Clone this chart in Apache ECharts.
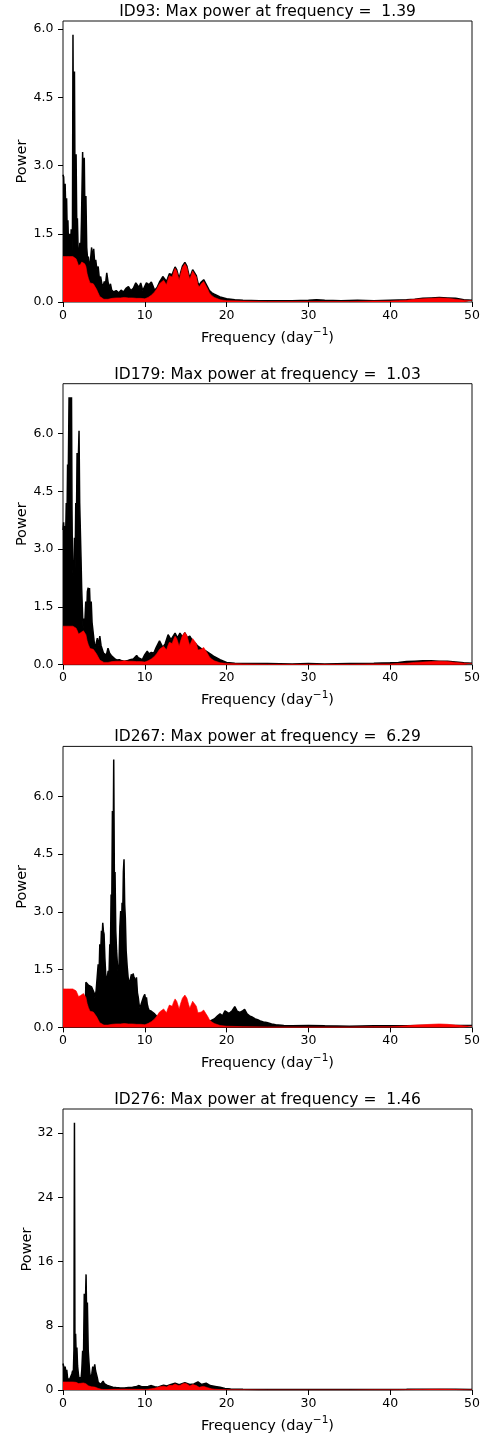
<!DOCTYPE html>
<html><head><meta charset="utf-8">
<script src="https://cdn.jsdelivr.net/npm/echarts@6/dist/echarts.min.js"></script>
<style>html,body{margin:0;padding:0;background:#fff}#c{width:493px;height:1441px}</style>
</head><body><div id="c"></div>
<script>
// ---- data ----
const titles = [
  'ID93: Max power at frequency =  1.39',
  'ID179: Max power at frequency =  1.03',
  'ID267: Max power at frequency =  6.29',
  'ID276: Max power at frequency =  1.46'
];
const xTicks = [0, 10, 20, 30, 40, 50];
const yTicks1 = [0, 1.5, 3, 4.5, 6];
const yTicks4 = [0, 8, 16, 24, 32];
const yMaxes = [6.18, 7.3, 7.3, 35];

// spectral window (red), [frequency, power]
const spectralWindow = [[0,1.0],[0.2,0.99],[0.4,1.0],[0.6,0.97],[0.8,1.0],[1.0,1.01],[1.2,1.0],[1.4,0.99],[1.6,0.95],[1.75,0.88],[1.9,0.8],[2.0,0.78],[2.15,0.83],[2.3,0.88],[2.5,0.88],[2.65,0.84],[2.8,0.78],[2.95,0.62],[3.1,0.52],[3.3,0.42],[3.5,0.4],[3.7,0.4],[3.9,0.36],[4.1,0.28],[4.3,0.2],[4.5,0.12],[4.7,0.08],[5.0,0.06],[5.5,0.06],[6.0,0.08],[6.5,0.09],[7.0,0.09],[7.5,0.1],[8.0,0.09],[8.5,0.09],[9.0,0.08],[9.5,0.08],[10.0,0.07],[10.4,0.1],[10.8,0.15],[11.2,0.22],[11.5,0.3],[11.8,0.4],[12.0,0.44],[12.3,0.48],[12.5,0.44],[12.65,0.38],[12.8,0.48],[13.0,0.58],[13.2,0.6],[13.35,0.55],[13.5,0.65],[13.7,0.74],[13.9,0.68],[14.1,0.55],[14.2,0.48],[14.35,0.6],[14.6,0.76],[14.9,0.84],[15.15,0.76],[15.35,0.6],[15.5,0.5],[15.65,0.58],[15.85,0.68],[16.05,0.69],[16.3,0.55],[16.5,0.38],[16.65,0.33],[16.9,0.4],[17.2,0.45],[17.4,0.42],[17.7,0.28],[17.9,0.2],[18.2,0.14],[18.5,0.1],[19.2,0.05],[20,0.03],[22,0.02],[25,0.01],[30,0.01],[35,0.01],[38,0.02],[40,0.02],[41,0.03],[42,0.04],[43,0.06],[44,0.07],[45,0.08],[46,0.09],[47,0.08],[48,0.06],[49,0.04],[50,0.03]];

// periodograms (black), [frequency, power]
const id93 = [[0,2.8],[0.08,2.75],[0.16,2.3],[0.26,2.6],[0.34,2.0],[0.44,2.28],[0.52,1.5],[0.6,1.8],[0.7,1.05],[0.8,1.5],[0.9,1.0],[1.0,1.6],[1.1,1.1],[1.16,1.7],[1.22,5.88],[1.3,2.2],[1.4,5.07],[1.48,2.0],[1.6,3.25],[1.68,1.7],[1.76,1.84],[1.86,1.05],[1.96,0.98],[2.06,1.3],[2.16,1.0],[2.26,1.8],[2.4,3.3],[2.5,1.9],[2.6,3.17],[2.7,1.6],[2.8,2.33],[2.9,1.2],[3.0,0.95],[3.1,1.0],[3.2,0.8],[3.35,0.9],[3.5,1.2],[3.6,0.95],[3.75,1.17],[3.88,0.85],[4.0,0.93],[4.15,0.7],[4.3,0.78],[4.45,0.5],[4.6,0.56],[4.75,0.4],[4.9,0.34],[5.05,0.45],[5.2,0.4],[5.35,0.64],[5.5,0.45],[5.65,0.3],[5.8,0.4],[5.95,0.26],[6.2,0.22],[6.5,0.25],[6.8,0.2],[7.1,0.26],[7.4,0.22],[7.7,0.3],[8.0,0.34],[8.3,0.25],[8.6,0.3],[8.9,0.42],[9.1,0.45],[9.3,0.32],[9.5,0.42],[9.75,0.25],[9.95,0.22],[10.2,0.42],[10.5,0.38],[10.8,0.44],[11.0,0.35],[11.2,0.26],[11.5,0.32],[11.8,0.44],[12.0,0.5],[12.2,0.56],[12.45,0.5],[12.65,0.45],[12.8,0.52],[13.0,0.62],[13.2,0.63],[13.35,0.6],[13.5,0.68],[13.7,0.77],[13.9,0.71],[14.1,0.58],[14.2,0.51],[14.35,0.63],[14.6,0.79],[14.9,0.87],[15.15,0.79],[15.35,0.63],[15.5,0.53],[15.65,0.61],[15.85,0.71],[16.05,0.73],[16.3,0.58],[16.5,0.42],[16.65,0.37],[16.9,0.44],[17.2,0.49],[17.4,0.46],[17.7,0.32],[17.9,0.25],[18.2,0.2],[18.5,0.17],[19.2,0.11],[20,0.07],[21,0.05],[22,0.04],[24,0.03],[26,0.03],[28,0.03],[30,0.04],[31,0.05],[32,0.04],[34,0.03],[36,0.04],[38,0.03],[40,0.04],[42,0.05],[43,0.06],[44,0.08],[45,0.09],[46,0.1],[47,0.09],[48,0.08],[49,0.05],[50,0.04]];

const id179 = [[0,3.5],[0.08,3.7],[0.16,3.2],[0.24,3.6],[0.32,3.3],[0.4,4.2],[0.48,3.6],[0.56,5.2],[0.64,4.8],[0.74,6.95],[0.82,6.2],[0.9,6.95],[0.96,6.4],[1.04,6.95],[1.1,4.0],[1.16,2.6],[1.24,2.3],[1.32,2.5],[1.4,3.3],[1.48,2.5],[1.56,4.2],[1.64,3.6],[1.72,5.5],[1.8,4.6],[1.88,5.4],[1.96,6.08],[2.04,4.2],[2.12,4.2],[2.2,2.8],[2.28,2.0],[2.36,1.5],[2.45,0.95],[2.55,1.2],[2.65,1.0],[2.78,1.64],[2.88,1.2],[2.98,1.9],[3.08,2.0],[3.16,1.5],[3.24,1.99],[3.34,1.4],[3.45,1.64],[3.55,1.1],[3.67,0.87],[3.78,0.9],[3.9,0.43],[4.05,0.55],[4.2,0.69],[4.35,0.5],[4.5,0.74],[4.65,0.5],[4.8,0.55],[4.95,0.3],[5.1,0.35],[5.3,0.25],[5.5,0.43],[5.7,0.3],[5.9,0.24],[6.1,0.2],[6.3,0.16],[6.6,0.12],[6.9,0.13],[7.2,0.1],[7.5,0.09],[7.8,0.1],[8.2,0.13],[8.6,0.15],[9.0,0.24],[9.2,0.18],[9.4,0.19],[9.7,0.13],[10.0,0.26],[10.3,0.35],[10.5,0.28],[10.8,0.32],[11.1,0.3],[11.4,0.45],[11.8,0.62],[12.2,0.45],[12.5,0.55],[12.85,0.78],[13.2,0.65],[13.7,0.82],[14.0,0.7],[14.3,0.82],[14.6,0.72],[14.9,0.83],[15.2,0.7],[15.5,0.74],[15.9,0.6],[16.2,0.55],[16.5,0.48],[16.9,0.42],[17.5,0.35],[18.0,0.28],[18.4,0.22],[19.2,0.13],[20,0.06],[21,0.04],[22,0.03],[25,0.03],[28,0.02],[30,0.03],[32,0.02],[35,0.03],[38,0.04],[40,0.05],[41,0.06],[42,0.08],[43,0.09],[44,0.1],[45,0.1],[46,0.09],[47,0.09],[48,0.07],[49,0.05],[50,0.04]];

const id267 = [[0,0.05],[1,0.06],[2,0.08],[2.7,0.3],[2.8,1.17],[2.95,1.19],[3.1,1.1],[3.3,1.08],[3.5,1.05],[3.67,1.0],[3.8,0.9],[3.9,0.78],[4.05,0.95],[4.17,1.0],[4.3,1.64],[4.4,1.3],[4.5,2.16],[4.6,1.9],[4.7,2.51],[4.78,2.3],[4.86,2.72],[4.94,2.5],[5.02,2.42],[5.12,1.8],[5.22,1.4],[5.32,1.12],[5.42,1.3],[5.52,1.47],[5.62,1.3],[5.72,2.16],[5.8,2.0],[5.88,3.45],[5.96,3.1],[6.04,5.62],[6.12,4.0],[6.2,6.96],[6.28,3.9],[6.36,4.04],[6.45,2.51],[6.55,2.0],[6.65,1.64],[6.75,1.4],[6.85,1.64],[6.95,2.6],[7.05,3.02],[7.15,2.5],[7.22,3.24],[7.3,2.9],[7.38,4.04],[7.46,4.37],[7.54,3.2],[7.62,2.85],[7.72,1.99],[7.84,1.6],[7.96,1.3],[8.06,1.2],[8.16,1.12],[8.28,1.3],[8.37,1.38],[8.47,1.2],[8.57,1.4],[8.68,1.3],[8.78,1.3],[8.88,1.2],[8.98,1.3],[9.1,0.9],[9.2,0.78],[9.3,0.6],[9.39,0.52],[9.55,0.6],[9.72,0.61],[9.86,0.8],[10.0,0.86],[10.1,0.7],[10.2,0.78],[10.3,0.6],[10.4,0.52],[10.5,0.45],[10.6,0.43],[10.8,0.42],[11.0,0.39],[11.2,0.35],[11.4,0.3],[11.6,0.26],[11.8,0.2],[12,0.12],[13,0.08],[14,0.1],[15,0.09],[16,0.1],[17,0.11],[17.6,0.14],[18.0,0.17],[18.5,0.22],[18.9,0.3],[19.2,0.35],[19.5,0.3],[19.8,0.43],[20.0,0.46],[20.3,0.36],[20.5,0.35],[20.7,0.44],[21.0,0.54],[21.3,0.42],[21.6,0.39],[21.9,0.42],[22.2,0.47],[22.5,0.35],[22.8,0.3],[23.1,0.27],[23.5,0.22],[23.8,0.2],[24.1,0.17],[24.5,0.14],[24.9,0.13],[25.5,0.09],[26,0.07],[27,0.05],[28,0.04],[30,0.05],[32,0.04],[35,0.03],[38,0.04],[40,0.04],[42,0.04],[44,0.05],[46,0.05],[48,0.05],[50,0.05]];

const id276 = [[0,3.3],[0.08,3.2],[0.16,2.6],[0.26,2.9],[0.36,2.2],[0.46,2.5],[0.56,1.5],[0.66,1.3],[0.76,1.2],[0.86,1.4],[0.96,1.1],[1.08,2.0],[1.18,2.4],[1.26,2.0],[1.34,5.0],[1.4,33.3],[1.46,6.0],[1.54,7.0],[1.62,4.0],[1.7,5.3],[1.78,3.0],[1.88,2.0],[1.98,1.2],[2.08,1.6],[2.2,1.3],[2.3,2.5],[2.4,4.9],[2.5,3.5],[2.6,12.0],[2.7,9.0],[2.82,14.4],[2.9,8.5],[2.98,10.9],[3.08,5.0],[3.18,3.4],[3.28,2.0],[3.4,1.4],[3.52,2.0],[3.64,2.9],[3.76,2.3],[3.88,3.2],[3.98,2.4],[4.08,2.5],[4.2,1.5],[4.3,0.97],[4.45,0.8],[4.6,0.7],[4.75,0.9],[4.9,1.1],[5.05,0.8],[5.2,0.9],[5.35,0.6],[5.5,0.6],[5.8,0.45],[6.1,0.35],[6.5,0.3],[7,0.25],[7.5,0.25],[8,0.3],[8.5,0.35],[9,0.45],[9.3,0.55],[9.6,0.4],[10,0.4],[10.4,0.45],[10.8,0.55],[11.2,0.4],[11.6,0.35],[12.0,0.5],[12.3,0.6],[12.7,0.5],[13.1,0.65],[13.7,0.85],[14.2,0.65],[14.9,0.9],[15.5,0.7],[16.0,0.75],[16.5,1.0],[16.9,0.7],[17.5,0.85],[18.0,0.55],[18.6,0.45],[19.2,0.35],[19.8,0.2],[20.5,0.12],[21,0.1],[22,0.08],[24,0.07],[26,0.06],[28,0.06],[30,0.06],[32,0.06],[34,0.06],[36,0.06],[38,0.07],[40,0.07],[42,0.08],[44,0.1],[46,0.1],[48,0.09],[50,0.07]];

const periodograms = [id93, id179, id267, id276];
const yTickSets = [yTicks1, yTicks1, yTicks1, yTicks4];

// ---- layout / styling ----
const FONT = 'DejaVu Sans';
const plotLeft = 63, plotWidth = 409, plotHeight = 281;
const plotTops = [21, 383.7, 746.4, 1109];
const yNameGaps = [33, 33, 33, 28.5];

const option = {
  animation: false,
  backgroundColor: '#fff',
  title: [], grid: [], xAxis: [], yAxis: [], series: []
};

for (let i = 0; i < 4; i++) {
  option.title.push({
    text: titles[i], left: plotLeft + plotWidth / 2, textAlign: 'center',
    top: plotTops[i] - 17, padding: 0,
    textStyle: { fontFamily: FONT, fontSize: 15.5, fontWeight: 'normal', color: '#000' }
  });
  option.grid.push({
    left: plotLeft, top: plotTops[i], width: plotWidth, height: plotHeight,
    show: true, borderColor: '#111', borderWidth: 1, backgroundColor: 'transparent'
  });
  option.xAxis.push({
    type: 'value', gridIndex: i, min: 0, max: 50, interval: 10,
    name: 'Frequency (day{s|−1})', nameLocation: 'middle', nameGap: 25,
    nameTextStyle: {
      fontFamily: FONT, fontSize: 14.5, color: '#000',
      rich: { s: { fontFamily: FONT, fontSize: 10.5, color: '#000', padding: [0, 0, 11, 0] } }
    },
    axisLine: { show: false },
    axisTick: { show: true, inside: false, length: 5, lineStyle: { color: '#000', width: 1 }, customValues: xTicks },
    axisLabel: { show: true, margin: 7, fontFamily: FONT, fontSize: 12.5, color: '#000', customValues: xTicks },
    splitLine: { show: false }
  });
  const yt = yTickSets[i];
  option.yAxis.push({
    type: 'value', gridIndex: i, min: 0, max: yMaxes[i], interval: yt[1],
    name: 'Power', nameLocation: 'middle', nameGap: yNameGaps[i], nameMoveOverlap: false,
    nameTextStyle: { fontFamily: FONT, fontSize: 14.5, color: '#000' },
    axisLine: { show: false },
    axisTick: { show: true, inside: false, length: 5, lineStyle: { color: '#000', width: 1 }, customValues: yt },
    axisLabel: {
      show: true, margin: 9.5, fontFamily: FONT, fontSize: 12.5, color: '#000',
      customValues: yt,
      formatter: i === 3 ? (v => String(Math.round(v))) : (v => v.toFixed(1))
    },
    splitLine: { show: false }
  });
  option.series.push({
    type: 'line', xAxisIndex: i, yAxisIndex: i, data: periodograms[i],
    showSymbol: false, symbol: 'none', smooth: false, z: 2,
    lineStyle: { color: '#000', width: 1.5 },
    areaStyle: { color: '#000', opacity: 1 }
  });
  option.series.push({
    type: 'line', xAxisIndex: i, yAxisIndex: i, data: spectralWindow,
    showSymbol: false, symbol: 'none', smooth: false, z: 3,
    lineStyle: { color: '#ff0000', width: 0.6 },
    areaStyle: { color: '#ff0000', opacity: 1 }
  });
}

const chart = echarts.init(document.getElementById('c'), null, { renderer: 'canvas' });
chart.setOption(option);
</script>
</body></html>
